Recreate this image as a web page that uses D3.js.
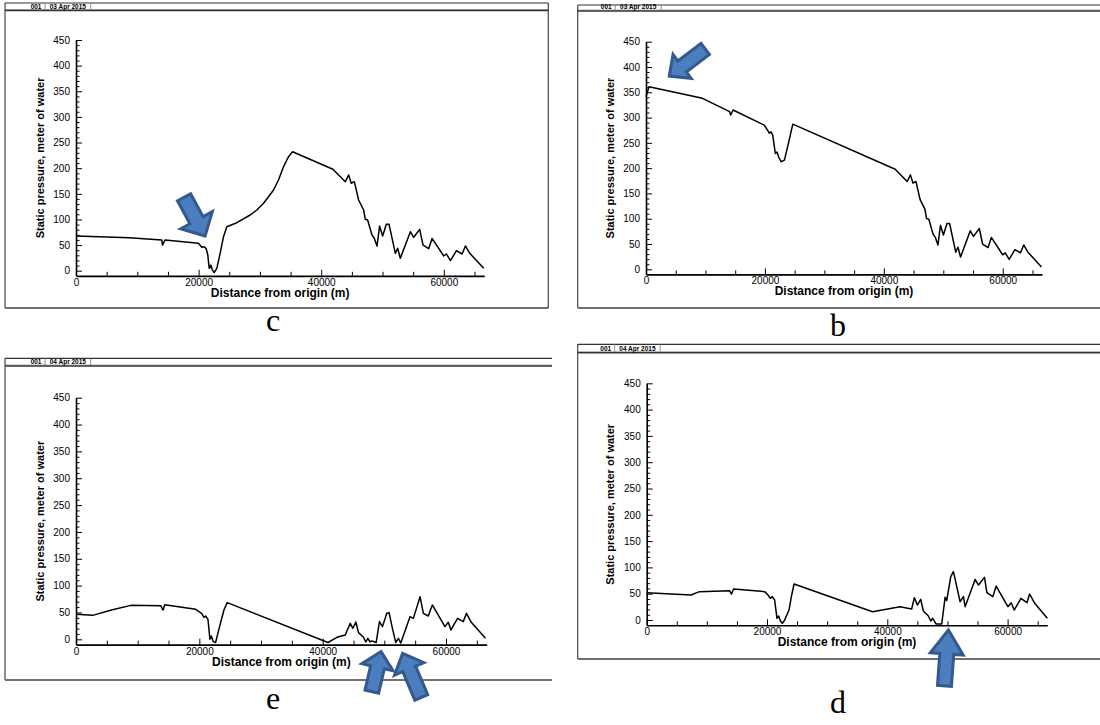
<!DOCTYPE html>
<html>
<head>
<meta charset="utf-8">
<script src="https://cdn.jsdelivr.net/npm/d3@7"></script>
<style>
body{margin:0;background:#fff;}
svg{display:block;font-family:"Liberation Sans",Arial,sans-serif;}
</style>
</head>
<body>
<svg id="chart" width="1100" height="725"></svg>
<script>
// tick labels shared by the four plots
var xTickLabels=[0,20000,40000,60000];
var yTickLabels=[0,50,100,150,200,250,300,350,400,450];
var xMax=66600;

var panelLetters=['c','b','e','d'];
var panelDates=['03 Apr 2015','03 Apr 2015','04 Apr 2015','04 Apr 2015'];
var runId='001';
var xTitle='Distance from origin (m)';
var yTitle='Static pressure, meter of water';

// panel c (03 Apr, upper left)
var distC=[0,8700,14000,14100,14530,19970,20520,20900,21230,21500,21720,21990,22200,22530,22970,23510,24060,24600,26240,
  28410,29500,30590,31400,32220,33030,33850,34670,35320,41910];
var presC=[67.7,64.4,60,50,60,53.4,45.6,46.8,43,30.6,4.7,11,2.7,-3.9,4.7,33.9,66.3,85.8,93.6,
  108.6,118.4,131.5,144.3,157.4,176.9,202.8,222.4,232,197.8];

// panel b (03 Apr, upper right)
var distB=[0,500,9500,14070,14240,14650,19880,20450,20730,21010,21300,21750,22030,22310,22710,23280,23950,24690,41910];
var presB=[341,361,338,311.6,305,315,285,275,269,272,266,229,232,222,212.7,216,249,287,197.8];

// both 03 Apr runs follow the same trace downstream of ~42 km
var tailDist=[43930,44470,44900,45400,46100,46920,47190,47570,48280,48650,49100,49520,50020,50620,51060,52090,52470,52900,
  54540,55080,56060,56610,57530,58080,59980,60420,61070,62050,62980,63520,64230,66510];
var tailPres=[173.6,186.7,170.5,173.6,137.9,118.4,100.2,98.9,69.6,63.2,48,87,67.7,90.5,90.5,33.9,43.7,24.2,
  76,65.1,80.7,50,43,63,28.7,32.6,19.5,39,32.6,48.2,33.9,4.7];

// panel e (04 Apr, lower left)
var distE=[0,2700,5900,8900,13740,14120,14390,19400,20370,20750,21020,21400,21720,21940,22260,22640,23280,23990,24520,
  40860,42310,43660,44470,44900,45380,45820,46620,47000,47320,47700,47970,48670,49210,49700,50400,50770,51310,51850,
  52280,52660,54170,54710,55790,56330,57130,57780,59830,60370,60800,61880,62790,63330,64030,66400];
var presE=[46.5,44.6,55,63.2,62.6,54.5,64.5,55.8,48.4,40.9,43.4,37.2,0,6.2,-4.3,-6,23.6,54.6,68.3,
  -6,3.7,8,29.8,20.5,32.3,12.4,3.7,-5,1.9,-5,-3,-6,33,23.6,48.4,49.7,20.5,-6,
  1.9,-7,42.2,39,79.4,48.4,43.4,63.9,23.6,31.7,17.4,39,32.9,48.4,32.9,1.9];

// panel d (04 Apr, lower right)
var distD=[0,7380,8770,13770,14100,14440,19610,20160,20550,20880,21270,21660,21940,22220,22550,22940,23660,24050,24500,
  37550,42100,44050,44500,45000,45550,46000,46830,47220,47550,48110,49050,49610,49880,50550,50990,51550,52100,52660,
  52940,54610,55160,56160,56550,57550,58100,60050,60600,61100,62220,63220,63660,64440,66600];
var presD=[51.9,47.5,53.9,55.8,49.4,58.9,53.9,47.5,41.2,44.4,38,3.2,7.6,-1.3,-6.3,0,19,44.4,68.4,
  15.8,25.3,20.9,42.5,28.5,39.3,17.1,7.6,-1.9,3.2,-7.6,-7.6,43.1,36.8,82.4,91.9,63.4,34.9,44.4,
  25.3,77.3,66.5,81.1,51.9,44.4,64.6,25.3,32.9,19,41.2,32.9,49.4,32.9,3.2];

var series=[
  {dist:distC.concat(tailDist),pres:presC.concat(tailPres)},
  {dist:distB.concat(tailDist),pres:presB.concat(tailPres)},
  {dist:distE,pres:presE},
  {dist:distD,pres:presD}
];

// blue block arrows, tip given in data units of their panel
var arrows=[
  {panel:0,dist:21065,pres:67.7,angle:61.4,len:44,shaft:15,head:36,headLen:18},
  {panel:1,dist:3920,pres:382,angle:142.9,len:45,shaft:14,head:30,headLen:16},
  {panel:2,dist:49470,pres:-23,angle:-77,len:41,shaft:14,head:32,headLen:16},
  {panel:2,dist:52960,pres:-26,angle:-112.9,len:48,shaft:14,head:32,headLen:17},
  {panel:3,dist:50170,pres:-19,angle:-85.9,len:56,shaft:14,head:33,headLen:24}
];

// where each screenshot sits on the page
var layout=[
  {frame:[5,3,548.3,308],right:true,hdr:10.5,sep:[40,85.7],x0:76,x1:484.3,yTop:40,y0:270.7,letter:[273,331]},
  {frame:[577.7,5,1104,308],right:false,hdr:11,sep:[37.5,83.5],x0:646,x1:1042,yTop:41.7,y0:269.3,letter:[838,336]},
  {frame:[5,358.3,552,680],right:false,hdr:366,sep:[40,85.7],x0:76,x1:486.7,yTop:397.7,y0:639.3,letter:[273,709]},
  {frame:[577.7,344.3,1104,659],right:false,hdr:352.7,sep:[37,82.5],x0:646.7,x1:1047.3,yTop:383.3,y0:620,letter:[838,713]}
];

var svg=d3.select('#chart');
svg.append('rect').attr('width',1100).attr('height',725).attr('fill','#fff');

var panelScales=[];

series.forEach(function(s,i){
  var L=layout[i], f=L.frame;
  var g=svg.append('g');

  // frame + header strip
  g.append('line').attr('x1',f[0]).attr('x2',f[2]).attr('y1',f[1]).attr('y2',f[1]).attr('stroke','#333').attr('stroke-width',1.2);
  g.append('line').attr('x1',f[0]).attr('x2',f[2]).attr('y1',L.hdr-1).attr('y2',L.hdr-1).attr('stroke','#aaa').attr('stroke-width',1);
  g.append('line').attr('x1',f[0]).attr('x2',f[2]).attr('y1',L.hdr).attr('y2',L.hdr).attr('stroke','#333').attr('stroke-width',1.4);
  g.append('line').attr('x1',f[0]).attr('x2',f[0]).attr('y1',f[1]).attr('y2',f[3]).attr('stroke','#444').attr('stroke-width',1.2);
  g.append('line').attr('x1',f[0]).attr('x2',f[2]).attr('y1',f[3]).attr('y2',f[3]).attr('stroke','#707070').attr('stroke-width',2);
  if(L.right){
    g.append('line').attr('x1',f[2]).attr('x2',f[2]).attr('y1',f[1]).attr('y2',f[3]).attr('stroke','#444').attr('stroke-width',1.2);
  }
  L.sep.forEach(function(o){
    g.append('line').attr('x1',f[0]+o).attr('x2',f[0]+o).attr('y1',f[1]).attr('y2',L.hdr-1)
      .attr('stroke','#777').attr('stroke-width',0.8);
  });
  g.append('text').attr('x',f[0]+L.sep[0]-3.5).attr('y',L.hdr-2).attr('text-anchor','end')
    .attr('font-size',6.5).attr('font-weight','bold').text(runId);
  g.append('text').attr('x',f[0]+(L.sep[0]+L.sep[1])/2).attr('y',L.hdr-2).attr('text-anchor','middle')
    .attr('font-size',6.5).attr('font-weight','bold').text(panelDates[i]);

  var x=d3.scaleLinear().domain([0,xMax]).range([L.x0,L.x1]);
  var k=(L.y0-L.yTop)/450;
  var y=d3.scaleLinear().domain([-10,450]).range([L.y0+10*k,L.yTop]);
  var axisY=y(-10);
  panelScales.push({x:x,y:y});

  // x axis: labelled ticks every 20000, small ticks every 5000
  var xMinor=d3.range(5000,xMax,5000).filter(v=>v%20000);
  g.append('g').attr('transform',`translate(0,${axisY})`)
    .call(d3.axisBottom(x).tickValues(xMinor).tickSizeInner(-4).tickSizeOuter(0).tickFormat(''))
    .call(a=>a.select('.domain').remove())
    .selectAll('line').attr('stroke','#000');
  var xa=g.append('g').attr('transform',`translate(0,${axisY})`)
    .call(d3.axisBottom(x).tickValues(xTickLabels).tickSizeInner(-6).tickSizeOuter(0).tickPadding(3).tickFormat(d3.format('d')));
  xa.select('.domain').attr('stroke','#000').attr('stroke-width',1.6);
  xa.selectAll('text').attr('font-family','"Liberation Sans",Arial,sans-serif').attr('font-size',10).attr('fill','#000');

  // y axis: labelled every 50, small ticks every 10
  var yMinor=d3.range(10,450,10).filter(v=>v%50);
  g.append('g').attr('transform',`translate(${L.x0},0)`)
    .call(d3.axisLeft(y).tickValues(yMinor).tickSizeInner(-3.5).tickSizeOuter(0).tickFormat(''))
    .call(a=>a.select('.domain').remove())
    .selectAll('line').attr('stroke','#000');
  var ya=g.append('g').attr('transform',`translate(${L.x0},0)`)
    .call(d3.axisLeft(y).tickValues(yTickLabels).tickSizeInner(-6).tickSizeOuter(0).tickPadding(6));
  ya.select('.domain').attr('stroke','#000').attr('stroke-width',1.6);
  ya.selectAll('text').attr('font-family','"Liberation Sans",Arial,sans-serif').attr('font-size',10).attr('fill','#000');

  // titles
  g.append('text').attr('x',(L.x0+L.x1)/2).attr('y',axisY+21).attr('text-anchor','middle')
    .attr('font-size',12).attr('font-weight','bold').text(xTitle);
  var ym=(axisY+L.yTop)/2;
  g.append('text').attr('transform',`translate(${L.x0-36.5},${ym}) rotate(-90)`)
    .attr('text-anchor','middle').attr('dominant-baseline','central')
    .attr('font-size',11).attr('font-weight','bold').text(yTitle);

  // pressure trace
  var pts=d3.zip(s.dist,s.pres);
  g.append('path').datum(pts)
    .attr('d',d3.line().x(d=>x(d[0])).y(d=>y(d[1])))
    .attr('fill','none').attr('stroke','#000').attr('stroke-width',1.5).attr('stroke-linejoin','round');

  // panel letter
  svg.append('text').attr('x',L.letter[0]).attr('y',L.letter[1]).attr('text-anchor','middle')
    .attr('font-family','"Liberation Serif","Times New Roman",serif').attr('font-size',32).text(panelLetters[i]);
});

// block arrows
arrows.forEach(function(a){
  var sc=panelScales[a.panel];
  var shape=[[0,0],[-a.headLen,a.head/2],[-a.headLen,a.shaft/2],[-a.len,a.shaft/2],
    [-a.len,-a.shaft/2],[-a.headLen,-a.shaft/2],[-a.headLen,-a.head/2]];
  svg.append('path')
    .attr('d','M'+shape.map(p=>p.join(',')).join('L')+'Z')
    .attr('transform',`translate(${sc.x(a.dist)},${sc.y(a.pres)}) rotate(${a.angle})`)
    .attr('fill','#4a7ebf').attr('stroke','#34598c').attr('stroke-width',3).attr('stroke-linejoin','miter');
});
</script>
</body>
</html>
